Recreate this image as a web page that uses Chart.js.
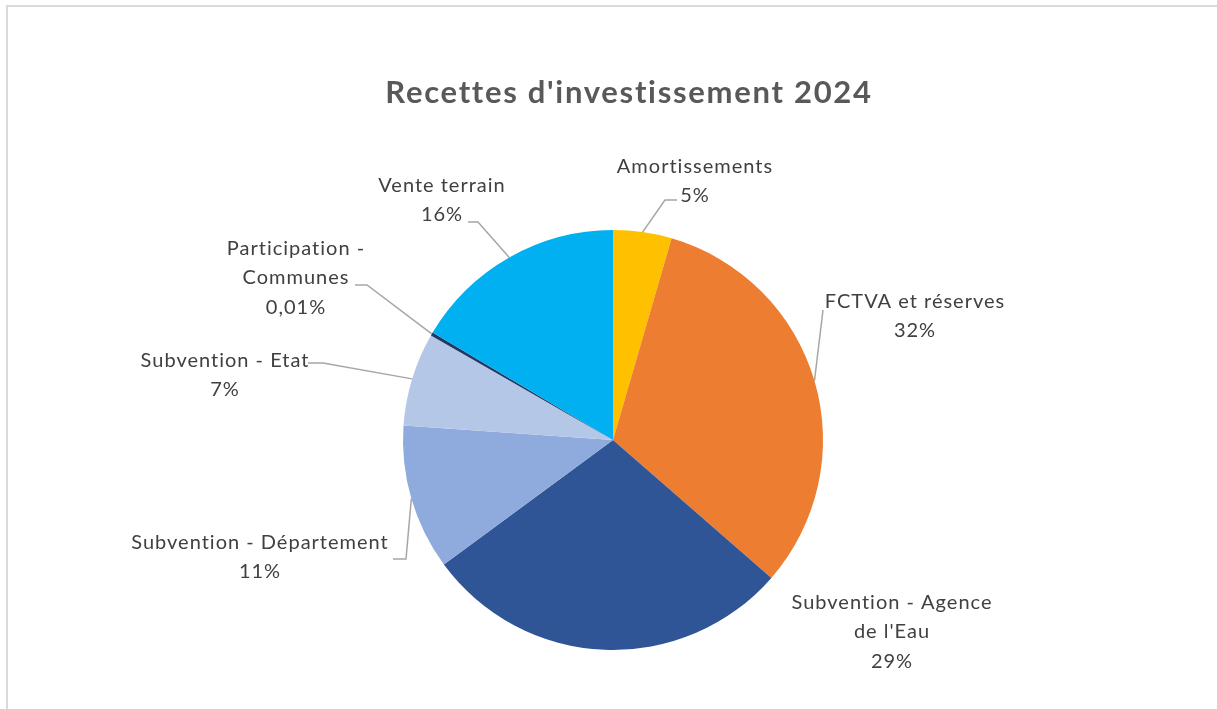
<!DOCTYPE html>
<html lang="fr">
<head>
<meta charset="utf-8">
<title>Recettes d'investissement 2024</title>
<script src="https://cdn.jsdelivr.net/npm/chart.js@4.4.1/dist/chart.umd.min.js"></script>
<style>
  html, body { margin: 0; padding: 0; background: #fff; overflow: hidden; }
  #wrap { position: relative; width: 1217px; height: 709px; }
  #frame { position: absolute; left: 6px; top: 5px; width: 1300px; height: 800px; border: 2px solid #d9d9d9; }
  canvas { position: absolute; left: 0; top: 0; }
</style>
</head>
<body>
<div id="wrap">
  <div id="frame"></div>
  <canvas id="chart" width="1217" height="709"></canvas>
</div>
<script>
// --- Data ---
const chartTitle = "Recettes d'investissement 2024";

const categories = [
    'Amortissements',
    'FCTVA et réserves',
    "Subvention - Agence de l'Eau",
    'Subvention - Département',
    'Subvention - Etat',
    'Participation - Communes',
    'Vente terrain'
];

const shares = [4.5, 31.9, 28.5, 11.2, 7.2, 0.25, 16.45];

// percentages as printed in the data labels
const pctLabels = ['5%', '32%', '29%', '11%', '7%', '0,01%', '16%'];

const sliceColors = ['#FFC000', '#ED7D31', '#2F5597', '#8FAADC', '#B4C7E7', '#203864', '#00B0F0'];

// --- Label placement, relative to the pie centre (Excel "best fit" look) ---
// dx/dy = centre of the text block, wrap = max line width, leader = elbow points
const labelLayout = [
    { dx: 82,   dy: -259, wrap: 400, leader: [[52, -240], [64, -240]] },
    { dx: 302,  dy: -124, wrap: 400, leader: [[210, -130]] },
    { dx: 279,  dy: 192,  wrap: 215, leader: null },
    { dx: -353, dy: 117,  wrap: 400, leader: [[-207, 119], [-220, 119]] },
    { dx: -388, dy: -65,  wrap: 400, leader: [[-290, -77], [-305, -77]] },
    { dx: -317, dy: -162, wrap: 160, leader: [[-246, -155], [-258, -155]] },
    { dx: -171, dy: -240, wrap: 400, leader: [[-135, -218], [-145, -218]] }
];

const FONT = 'Lato, "Open Sans", sans-serif';
const LABEL_SIZE = 20;
const LINE_H = 29.5;
const TITLE_SIZE = 31;

function wrapText(ctx, text, maxW) {
    const words = text.split(' ');
    const lines = [];
    let cur = '';
    words.forEach(w => {
        const test = cur ? cur + ' ' + w : w;
        if (cur && ctx.measureText(test).width > maxW) {
            lines.push(cur);
            cur = w;
        } else {
            cur = test;
        }
    });
    if (cur) lines.push(cur);
    return lines;
}

// Draws the title, the leader lines and the data labels
const excelLabels = {
    id: 'excelLabels',
    afterDatasetsDraw(chart) {
        const ctx = chart.ctx;
        const meta = chart.getDatasetMeta(0);
        const cx = meta.data[0].x;
        const cy = meta.data[0].y;

        ctx.save();
        // title
        ctx.fillStyle = '#595959';
        ctx.font = `bold ${TITLE_SIZE}px ${FONT}`;
        ctx.letterSpacing = '1.7px';
        ctx.textAlign = 'center';
        ctx.textBaseline = 'alphabetic';
        ctx.fillText(chartTitle, cx + 16, 103);

        ctx.font = `${LABEL_SIZE}px ${FONT}`;
        ctx.letterSpacing = '1px';
        ctx.textBaseline = 'middle';
        meta.data.forEach((arc, i) => {
            const lay = labelLayout[i];
            const mid = (arc.startAngle + arc.endAngle) / 2;
            const ax = cx + Math.cos(mid) * arc.outerRadius;
            const ay = cy + Math.sin(mid) * arc.outerRadius;

            if (lay.leader) {
                ctx.strokeStyle = '#a6a6a6';
                ctx.lineWidth = 1.5;
                ctx.beginPath();
                ctx.moveTo(ax, ay);
                lay.leader.forEach(p => ctx.lineTo(cx + p[0], cy + p[1]));
                ctx.stroke();
            }

            const lines = wrapText(ctx, categories[i], lay.wrap).concat(pctLabels[i]);
            const top = cy + lay.dy - (lines.length - 1) * LINE_H / 2;
            ctx.fillStyle = '#404040';
            lines.forEach((t, k) => ctx.fillText(t, cx + lay.dx, top + k * LINE_H));
        });
        ctx.restore();
    }
};

new Chart(document.getElementById('chart'), {
    type: 'pie',
    data: {
        labels: categories,
        datasets: [{
            data: shares,
            backgroundColor: sliceColors,
            borderWidth: 0
        }]
    },
    options: {
        responsive: false,
        animation: false,
        layout: { padding: { top: 230, bottom: 59, left: 9, right: 0 } },
        plugins: {
            legend: { display: false },
            title: { display: false },
            tooltip: { enabled: false }
        }
    },
    plugins: [excelLabels]
});
</script>
</body>
</html>
